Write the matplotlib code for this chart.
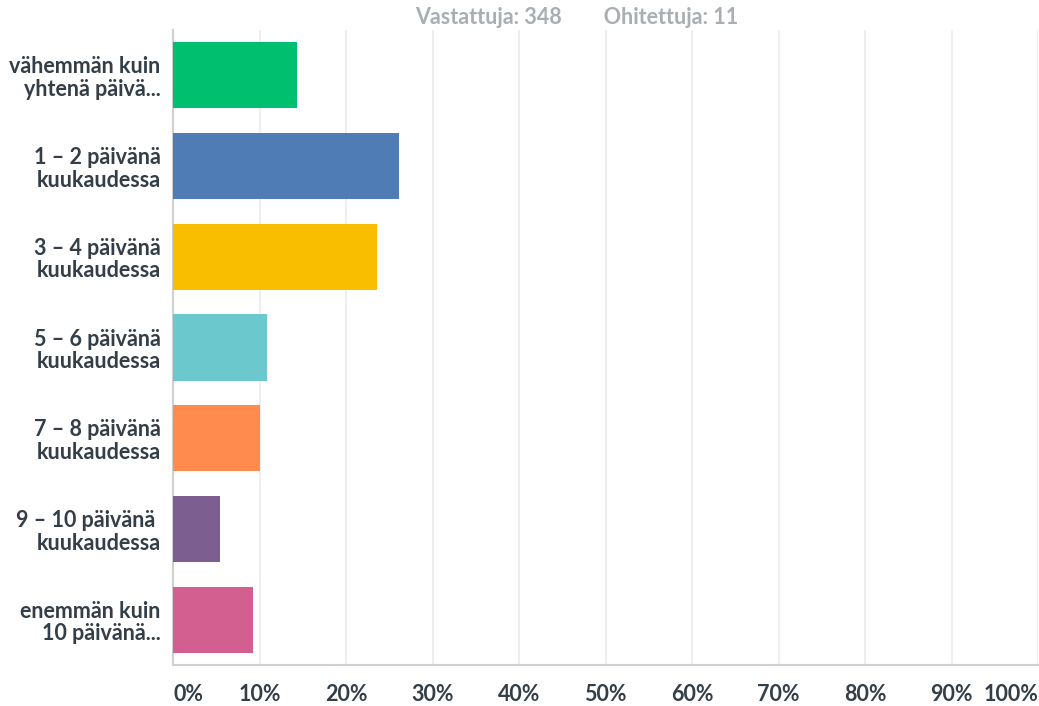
import matplotlib
matplotlib.use("Agg")
import matplotlib.pyplot as plt

categories = ["vähemmän kuin\nyhtenä päivä...", "1 – 2 päivänä\nkuukaudessa", "3 – 4 päivänä\nkuukaudessa",
              "5 – 6 päivänä\nkuukaudessa", "7 – 8 päivänä\nkuukaudessa", "9 – 10 päivänä \nkuukaudessa",
              "enemmän kuin\n10 päivänä..."]
values = [14.37, 26.15, 23.56, 10.92, 10.06, 5.46, 9.20]
colors = ["#00BF6F", "#507CB6", "#F9BE00", "#6BC8CD", "#FF8B4F", "#7D5E90", "#D25F90"]
xticks = [0, 10, 20, 30, 40, 50, 60, 70, 80, 90, 100]
xticklabels = [f"{t}%" for t in xticks]
title = "Vastattuja: 348        Ohitettuja: 11"

plt.rcParams['font.family'] = ['Lato', 'DejaVu Sans']
fig = plt.figure(figsize=(10.39, 7.06), dpi=100)
ax = fig.add_axes([173/1039, 1-665/706, (1038-173)/1039, (665-30)/706])

ypos = list(range(len(categories)))
ax.barh(ypos, values, height=0.73, color=colors, zorder=3)
ax.set_ylim(len(categories)-0.5, -0.5)
ax.set_xlim(0, 100)
ax.set_xticks(xticks)
ax.set_xticklabels(xticklabels, fontsize=15.5, fontweight='bold', color='#333E48')
labs = ax.get_xticklabels()
labs[0].set_horizontalalignment('left')
labs[-1].set_horizontalalignment('right')
ax.tick_params(axis='x', length=0, pad=14)
ax.set_yticks(ypos)
ax.set_yticklabels(categories, fontsize=15.5, fontweight='bold', color='#333E48',
                   ha='right', multialignment='right', linespacing=1.1)
ax.tick_params(axis='y', length=0, pad=9)
ax.grid(axis='x', color='#EEEEEE', linewidth=1.5, zorder=0)
for s in ['top', 'right']:
    ax.spines[s].set_visible(False)
ax.spines['left'].set_color('#D0D0D0')
ax.spines['bottom'].set_color('#D0D0D0')
ax.spines['left'].set_linewidth(1.5)
ax.spines['bottom'].set_linewidth(1.5)
fig.text(577/1039, 1-17/706, title, ha='center', va='center', fontsize=15.5,
         fontweight='bold', color='#A8AEB3')
fig.savefig("out.png", dpi=100)
